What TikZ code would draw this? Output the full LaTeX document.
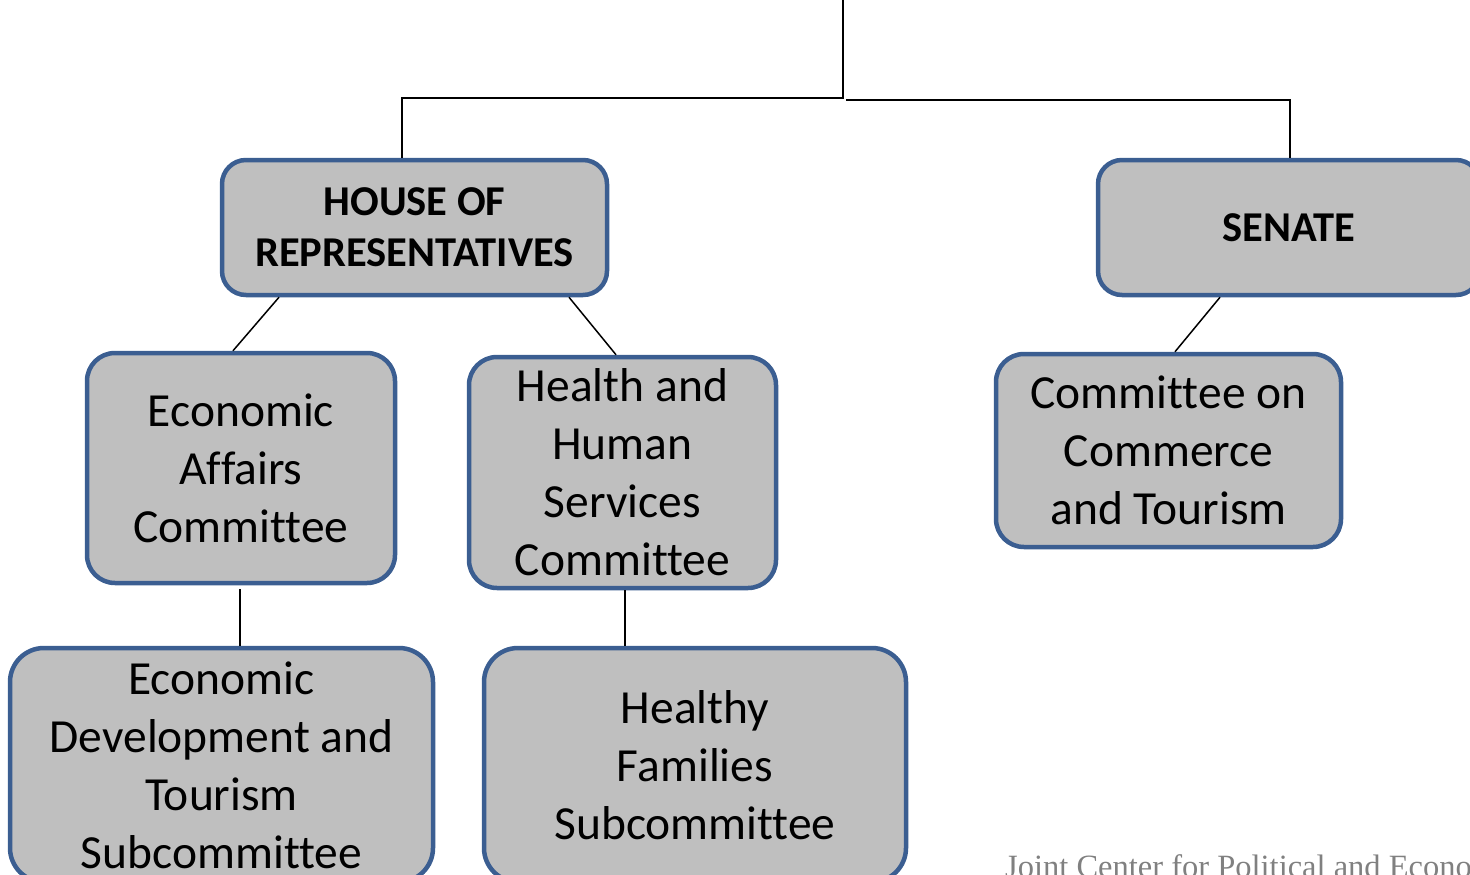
\documentclass[tikz,border=0pt]{standalone}
\usepackage{fontspec}
\setmainfont[Ligatures=NoCommon]{Carlito}
\newfontfamily\footfont{Liberation Serif}
\definecolor{boxfill}{HTML}{BFBFBF}
\definecolor{boxline}{HTML}{3B5E91}
\definecolor{footgray}{HTML}{808080}
\begin{document}
\begin{tikzpicture}[x=1pt,y=-1pt,
  orgbox/.style={draw=boxline, fill=boxfill, line width=4.5pt, rounded corners=28pt,
    inner sep=0pt, align=center, font=\fontsize{47.5}{58}\selectfont},
  headbox/.style={orgbox, rounded corners=24pt, font=\bfseries\fontsize{42.5}{51}\selectfont},
  link/.style={draw=black, line width=1.5pt},
  toplink/.style={draw=black, line width=2pt}]
\useasboundingbox (0,0) rectangle (1470,875);
\clip (0,0) rectangle (1470,875);

\node[headbox, minimum width=385pt, minimum height=135pt] (house) at (414.5,227.5)
  {HOUSE OF\\REPRESENTATIVES};
\node[headbox, minimum width=382pt, minimum height=135pt] (senate) at (1289,227.5)
  {SENATE};
\node[orgbox, minimum width=308pt, minimum height=230pt] (ea) at (241,468)
  {Economic\\Affairs\\Committee};
\node[orgbox, minimum width=307pt, minimum height=231pt] (hhs) at (622.5,472.5)
  {Health and\\Human\\Services\\Committee};
\node[orgbox, minimum width=345pt, minimum height=193pt] (com) at (1168.5,450.5)
  {Committee on\\Commerce\\and Tourism};
\node[orgbox, rounded corners=34pt, minimum width=423pt, minimum height=234pt] (edt) at (221.5,765)
  {Economic\\Development and\\Tourism\\Subcommittee};
\node[orgbox, rounded corners=34pt, minimum width=422pt, minimum height=234pt] (hf) at (695,765)
  {Healthy\\Families\\Subcommittee};

\coordinate (top) at (843,0);
\coordinate (split) at (843,98);
\coordinate (splitb) at (846,100);
\draw[toplink] (top) -- (split) -- (402,98) -- ([xshift=-12.5pt]house.north);
\draw[toplink] (splitb) -- (1290,100) -- ([xshift=1pt]senate.north);

\draw[link] ([xshift=-135.5pt]house.south) -- ([xshift=-8pt]ea.north);
\draw[link] ([xshift=154.5pt]house.south) -- ([xshift=-6.5pt]hhs.north);
\draw[link] ([xshift=-69pt]senate.south) -- ([xshift=6.5pt]com.north);
\draw[link] ([xshift=-1pt,yshift=-4pt]ea.south) -- ([xshift=18.5pt]edt.north);
\draw[link] ([xshift=2.5pt]hhs.south) -- ([xshift=-70pt]hf.north);

\node[anchor=base west, inner sep=0pt, text=footgray, font=\footfont\fontsize{32.5}{38}\selectfont]
  (foot) at (1005,877) {Joint Center for Political and Economic Studies};
\end{tikzpicture}
\end{document}
